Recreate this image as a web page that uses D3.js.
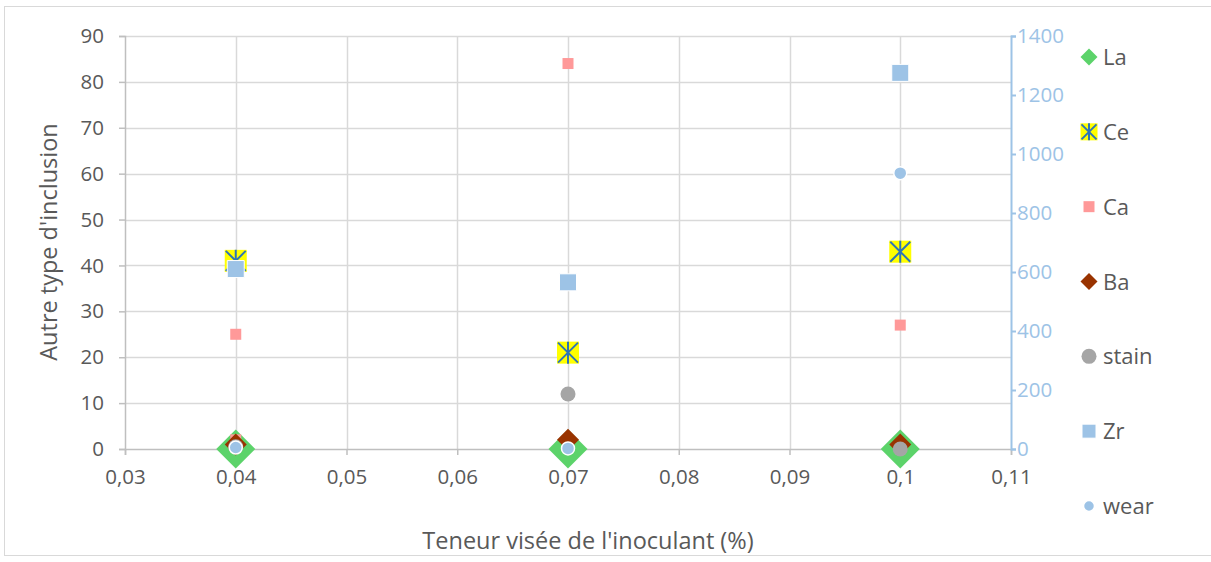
<!DOCTYPE html>
<html>
<head>
<meta charset="utf-8">
<script src="https://cdn.jsdelivr.net/npm/d3@7"></script>
<style>
  body { margin: 0; background: #fff; }
  text { font-family: "Open Sans", "Liberation Sans", sans-serif; }
</style>
</head>
<body>
<div class="chart"></div>
<script>
// tick values
const xTicks = [0.03, 0.04, 0.05, 0.06, 0.07, 0.08, 0.09, 0.1, 0.11];
const leftTicks = [0, 10, 20, 30, 40, 50, 60, 70, 80, 90];
const rightTicks = [0, 200, 400, 600, 800, 1000, 1200, 1400];

// series (left axis)
const laX = [0.04, 0.07, 0.1], laY = [0, 0, 0];
const ceX = [0.04, 0.07, 0.1], ceY = [41, 21, 43];
const caX = [0.04, 0.04, 0.07, 0.1], caY = [25, 2, 84, 27];
const baX = [0.04, 0.07, 0.1], baY = [1, 2, 1];
const stainX = [0.04, 0.07, 0.1], stainY = [0.5, 12, 0];
// series (right axis)
const zrX = [0.04, 0.07, 0.1], zrY = [610, 565, 1275];
const wearX = [0.04, 0.07, 0.1], wearY = [5, 2, 935];

const legendNames = ["La", "Ce", "Ca", "Ba", "stain", "Zr", "wear"];

const W = 1211, H = 562;
const margin = {left: 125, right: 200, top: 36, bottom: 113};

const svg = d3.select(".chart").append("svg")
  .attr("width", W).attr("height", H);

// outer chart frame
svg.append("rect")
  .attr("x", 4.5).attr("y", 6.5)
  .attr("width", W).attr("height", 549)
  .attr("fill", "none").attr("stroke", "#d9d9d9");

let x = d3.scaleLinear().domain([0.03, 0.11]).range([margin.left, W - margin.right]);
let yL = d3.scaleLinear().domain([0, 90]).range([H - margin.bottom, margin.top]);
let yR = d3.scaleLinear().domain([0, 1400]).range([H - margin.bottom, margin.top]);

const loc = d3.formatLocale({decimal: ",", thousands: " ", grouping: [3], currency: ["", "€"]});
const fx = loc.format("~g");
const fr = d3.format("d");

// grid
svg.append("g").selectAll("line").data(leftTicks.slice(1)).enter().append("line")
  .attr("x1", x(0.03)).attr("x2", x(0.11))
  .attr("y1", d => Math.round(yL(d)) + 0.5).attr("y2", d => Math.round(yL(d)) + 0.5)
  .attr("stroke", "#d9d9d9").attr("stroke-width", 1.5);
svg.append("g").selectAll("line").data(xTicks.slice(1, -1)).enter().append("line")
  .attr("x1", d => Math.round(x(d)) + 0.5).attr("x2", d => Math.round(x(d)) + 0.5)
  .attr("y1", yL(0)).attr("y2", yL(90))
  .attr("stroke", "#d9d9d9").attr("stroke-width", 1.5);

// axes
let gx = svg.append("g").attr("transform", "translate(0," + yL(0) + ")")
  .call(d3.axisBottom(x).tickValues(xTicks).tickFormat(fx).tickSizeOuter(0).tickSize(6).tickPadding(14));
let gl = svg.append("g").attr("transform", "translate(" + x(0.03) + ",0)")
  .call(d3.axisLeft(yL).tickValues(leftTicks).tickSizeOuter(0).tickSize(6).tickPadding(15));
let gr = svg.append("g").attr("transform", "translate(" + x(0.11) + ",0)")
  .call(d3.axisRight(yR).tickValues(rightTicks).tickFormat(fr).tickSizeOuter(0).tickSize(5).tickPadding(1));

[gx, gl].forEach(g => {
  g.selectAll("path, line").attr("stroke", "#bfbfbf").attr("stroke-width", 1.5);
  g.selectAll("text").attr("fill", "#595959").style("font-size", "20.5px");
});
gr.selectAll("path, line").attr("stroke", "#9dc3e6").attr("stroke-width", 2);
gr.selectAll("text").attr("fill", "#9dc3e6").style("font-size", "20.5px");

// axis titles
svg.append("text")
  .attr("x", (x(0.03) + x(0.11)) / 2 + 20).attr("y", 549)
  .attr("text-anchor", "middle").attr("fill", "#595959").style("font-size", "23.5px")
  .text("Teneur visée de l'inoculant (%)");
svg.append("text")
  .attr("transform", "translate(57,242) rotate(-90)")
  .attr("text-anchor", "middle").attr("fill", "#595959").style("font-size", "23.5px")
  .text("Autre type d'inclusion");

// marker drawing
function square(s) { return d3.symbol(d3.symbolSquare, s * s)(); }
function circle(dm) { return d3.symbol(d3.symbolCircle, Math.PI * dm * dm / 4)(); }
function diamond(diag) { let h = diag / 2; return `M0,${-h}L${h},0L0,${h}L${-h},0Z`; }

function drawMarker(g, type, size) {
  if (type === "La") g.append("path").attr("d", diamond(size)).attr("fill", "#5cd36a");
  else if (type === "Ce") {
    let h = size / 2;
    g.append("rect").attr("x", -h).attr("y", -h).attr("width", size).attr("height", size).attr("fill", "#ffff00");
    g.append("path").attr("d", `M${-h + 1},${-h + 1}L${h - 1},${h - 1}M${h - 1},${-h + 1}L${-h + 1},${h - 1}M0,${-h}L0,${h}`)
      .attr("stroke", "#2e75b6").attr("stroke-width", 2).attr("fill", "none");
  }
  else if (type === "Ca") g.append("path").attr("d", square(size)).attr("fill", "#ff9999");
  else if (type === "Ba") g.append("path").attr("d", diamond(size)).attr("fill", "#993300");
  else if (type === "stain") g.append("path").attr("d", circle(size)).attr("fill", "#a5a5a5");
  else if (type === "Zr") g.append("path").attr("d", square(size)).attr("fill", "#9dc3e6").attr("stroke", "#fff").attr("stroke-width", 1);
  else if (type === "wear") g.append("path").attr("d", circle(size)).attr("fill", "#9dc3e6").attr("stroke", "#fff").attr("stroke-width", 1.5);
}

const series = [
  {name: "La", xs: laX, ys: laY, y: yL, size: 39, leg: 17},
  {name: "Ce", xs: ceX, ys: ceY, y: yL, size: 22, leg: 17},
  {name: "Ca", xs: caX, ys: caY, y: yL, size: 11, leg: 11},
  {name: "Ba", xs: baX, ys: baY, y: yL, size: 22, leg: 17},
  {name: "stain", xs: stainX, ys: stainY, y: yL, size: 15, leg: 15},
  {name: "Zr", xs: zrX, ys: zrY, y: yR, size: 17, leg: 14},
  {name: "wear", xs: wearX, ys: wearY, y: yR, size: 13, leg: 11}
];

series.forEach(s => {
  s.xs.forEach((xv, i) => {
    let g = svg.append("g").attr("transform", `translate(${x(xv)},${s.y(s.ys[i])})`);
    drawMarker(g, s.name, s.size);
  });
});

// legend
let legY = d3.scalePoint().domain(legendNames).range([57, 506]);
series.forEach(s => {
  let g = svg.append("g").attr("transform", `translate(1089,${legY(s.name)})`);
  drawMarker(g, s.name, s.leg);
  g.append("text").attr("x", 14).attr("y", 8).attr("fill", "#595959").style("font-size", "22px").text(s.name);
});
</script>
</body>
</html>
